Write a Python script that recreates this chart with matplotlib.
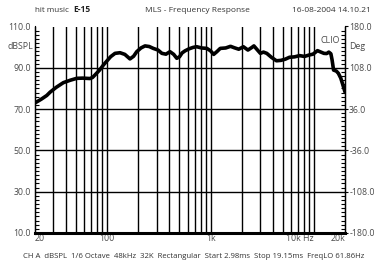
import numpy as np
import matplotlib
matplotlib.use("Agg")
import matplotlib.pyplot as plt
from matplotlib.ticker import FixedLocator

freq_hz = [20, 23, 26, 28, 32, 37.6, 44, 50.7, 58, 68, 72, 76, 84, 92, 100, 108, 119, 133, 148,
           166, 180, 193, 212, 232, 255, 279, 310, 338, 370, 405, 440, 471, 500, 530, 566,
           620, 680, 735, 820, 921, 1000, 1072, 1150, 1241, 1400, 1560, 1700, 1874,
           2077, 2300, 2500, 2627, 2800, 3034, 3250, 3498, 3900, 4340, 4800, 5300,
           5805, 6500, 7270, 8100, 9000, 9800, 10830, 11700, 12500, 13300, 13940,
           14600, 15000, 15500, 16500, 17270, 18200, 19000, 20000]
spl_db = [73.0, 74.8, 76.6, 78.2, 80.5, 82.8, 84.0, 84.9, 85.0, 84.8, 85.3, 86.5, 88.8, 91.4, 93.5, 95.4, 97.0, 97.3, 96.5,
          94.3, 95.6, 97.8, 99.6, 100.6, 100.3, 99.4, 98.6, 97.0, 96.6, 97.8, 96.5, 94.6, 95.3, 97.2, 98.2,
          99.2, 99.9, 100.2, 99.6, 99.4, 98.2, 96.5, 97.8, 99.4, 99.6, 100.4, 99.7, 99.0,
          100.2, 98.6, 99.8, 100.6, 99.0, 97.0, 97.6, 97.0, 95.0, 93.4, 93.6, 94.2,
          95.1, 95.3, 95.9, 95.5, 96.2, 96.6, 98.3, 97.6, 97.0, 96.9, 97.6,
          96.8, 93.8, 88.9, 88.4, 87.3, 85.0, 82.0, 78.3]

left_ticks = [10.0, 30.0, 50.0, 70.0, 90.0, 110.0]
right_ticks = [-180.0, -108.0, -36.0, 36.0, 108.0, 180.0]
x_tick_pos = [20, 100, 1000, 10000, 20000]
x_tick_lab = ["20", "100", "1k", "10k Hz", "20k"]
grid_freqs = [30, 40, 50, 60, 70, 80, 90, 100, 200, 300, 400, 500, 600, 700, 800, 900,
              1000, 2000, 3000, 4000, 5000, 6000, 7000, 8000, 9000, 10000]

plt.rcParams['font.family'] = ['Open Sans', 'DejaVu Sans']
fs = 6.3
gray = '#4a4a4a'

fig = plt.figure(figsize=(3.74, 2.64), dpi=100)
ax = fig.add_axes([35/374, 1-233/264, 310/374, (233-26.5)/264])
ax.set_xscale('log')
ax.set_xlim(20, 20000)
ax.set_ylim(10, 110)

for f in grid_freqs:
    ax.axvline(f, color='black', lw=1.0, zorder=1)
for v in [30, 50, 70, 90]:
    ax.axhline(v, color='black', lw=1.0, zorder=1)

ax.plot(freq_hz, spl_db, color='black', lw=2.6, solid_joinstyle='round', solid_capstyle='round', zorder=3)

ax.spines['top'].set_visible(False)
ax.spines['bottom'].set_linewidth(2.2)
ax.spines['left'].set_linewidth(1.0)
ax.spines['right'].set_linewidth(1.0)

ax.xaxis.set_major_locator(FixedLocator(x_tick_pos))
ax.set_xticklabels(x_tick_lab)
ax.xaxis.set_minor_locator(FixedLocator([]))
ax.tick_params(axis='x', length=0, pad=1, labelsize=fs, labelcolor=gray)
labs = ax.get_xticklabels()
labs[0].set_ha('left')
labs[3].set_ha('right')
labs[4].set_ha('right')

ax.yaxis.set_major_locator(FixedLocator(left_ticks))
ax.set_yticklabels([f"{v:.1f}" for v in left_ticks])
ax.yaxis.set_minor_locator(FixedLocator(np.arange(12, 110, 2)))
ax.tick_params(axis='y', which='major', length=0, pad=3, labelsize=fs, labelcolor=gray)
ax.tick_params(axis='y', which='minor', direction='in', length=3, width=0.8)

ax2 = ax.twinx()
ax2.set_ylim(-180, 180)
ax2.spines['top'].set_visible(False)
ax2.spines['bottom'].set_visible(False)
ax2.yaxis.set_major_locator(FixedLocator(right_ticks))
ax2.set_yticklabels([f"{v:.1f}" for v in right_ticks])
ax2.yaxis.set_minor_locator(FixedLocator(np.arange(-180, 180, 7.2)))
ax2.tick_params(axis='y', which='major', direction='out', length=2, width=0.8, pad=1, labelsize=fs, labelcolor=gray)
ax2.tick_params(axis='y', which='minor', direction='in', length=3, width=0.8)

fig.text(33/374, 1-46/264, "dBSPL", ha='right', va='center', fontsize=fs, color=gray)
fig.text(349/374, 1-46/264, "Deg", ha='left', va='center', fontsize=fs, color=gray)
ax.text(0.985, 0.955, "CLIO", transform=ax.transAxes, ha='right', va='top', fontsize=fs, color=gray)

fig.text(35/374, 1-10/264, "hit music", ha='left', va='center', fontsize=5.8, color='#333333')
fig.text(73/374, 1-10/264, "E-15", ha='left', va='center', fontsize=6.0, color='#222222', fontweight='bold')
fig.text(197/374, 1-10/264, "MLS - Frequency Response", ha='center', va='center', fontsize=6.0, color='#333333')
fig.text(371/374, 1-10/264, "16-08-2004 14.10.21", ha='right', va='center', fontsize=6.0, color='#333333')
fig.text(194/374, 1-256/264,
         "CH A  dBSPL  1/6 Octave  48kHz  32K  Rectangular  Start 2.98ms  Stop 19.15ms  FreqLO 61.86Hz",
         ha='center', va='center', fontsize=5.6, color='#333333')

fig.savefig("out.png", dpi=100)
